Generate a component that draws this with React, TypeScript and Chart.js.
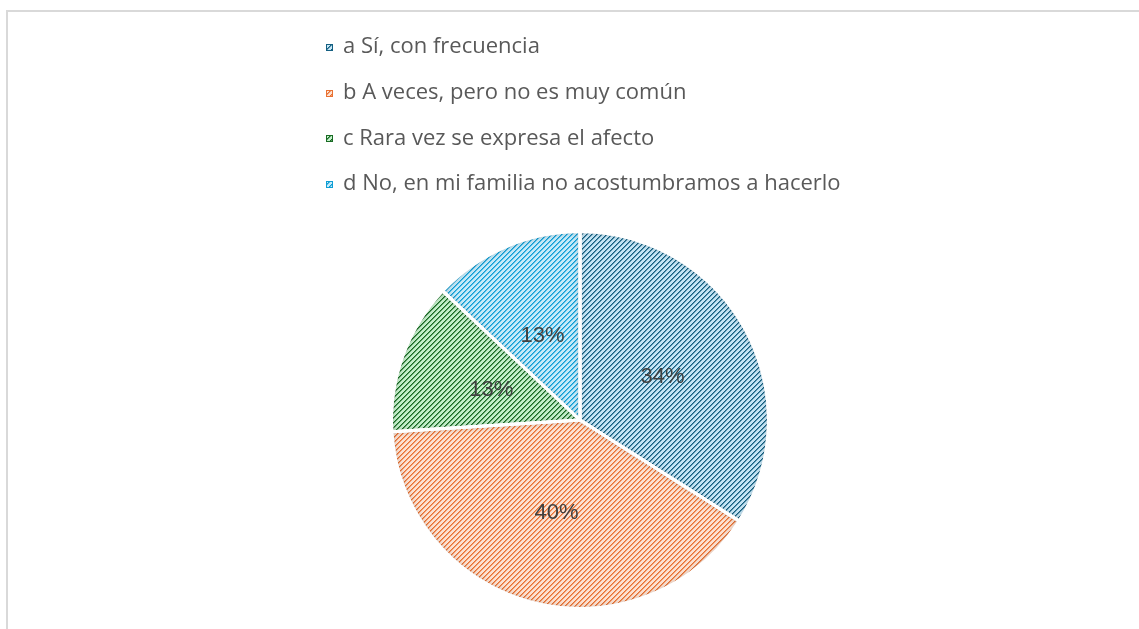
import { useEffect, useRef } from "react";
import { Chart, registerables } from "chart.js";
Chart.register(...registerables);

const categories = [
  "a Sí, con frecuencia",
  "b A veces, pero no es muy común",
  "c Rara vez se expresa el afecto",
  "d No, en mi familia no acostumbramos a hacerlo",
];
const values = [34, 40, 13, 13];
const foreColors = ["#156082", "#E97132", "#196B24", "#0F9ED5"];
const backColors = ["#c6e6f6", "#fde2d2", "#c4f0ca", "#c6eaf9"];

const LEGEND_FONT = "22px 'Open Sans', Arial, sans-serif";
const LABEL_FONT = "22px 'Liberation Sans', Arial, sans-serif";

function makePattern(fg: string, bg: string): CanvasPattern | string {
  const n = 5;
  const c = document.createElement("canvas");
  c.width = n;
  c.height = n;
  const x = c.getContext("2d");
  if (!x) return fg;
  x.fillStyle = bg;
  x.fillRect(0, 0, n, n);
  x.fillStyle = fg;
  for (let i = 0; i < n; i++)
    for (let j = 0; j < n; j++) {
      const k = (i + j) % n;
      if (k === 0) {
        x.globalAlpha = 1;
        x.fillRect(i, j, 1, 1);
      } else if (k === 1) {
        x.globalAlpha = 0.6;
        x.fillRect(i, j, 1, 1);
      }
    }
  x.globalAlpha = 1;
  return x.createPattern(c, "repeat") || fg;
}

function arcPath(ctx: CanvasRenderingContext2D, p: any) {
  ctx.moveTo(p.x, p.y);
  ctx.arc(p.x, p.y, p.outerRadius, p.startAngle, p.endAngle);
  ctx.closePath();
}

const overlay = {
  id: "overlay",
  afterDatasetsDraw(chart: any) {
    const ctx: CanvasRenderingContext2D = chart.ctx;
    const meta = chart.getDatasetMeta(0);
    const ds = chart.data.datasets[0];
    const total = (ds.data as number[]).reduce((a, b) => a + b, 0);
    meta.data.forEach((arc: any) => {
      const p = arc.getProps(["x", "y", "startAngle", "endAngle", "outerRadius"], true);
      ctx.save();
      ctx.beginPath();
      arcPath(ctx, p);
      ctx.clip();
      ctx.beginPath();
      ctx.rect(p.x - 3000, p.y - 3000, 6000, 6000);
      arcPath(ctx, p);
      ctx.shadowColor = "rgba(0,0,0,0.25)";
      ctx.shadowBlur = 7;
      ctx.fillStyle = "#000";
      ctx.fill("evenodd");
      ctx.restore();
    });
    meta.data.forEach((arc: any) => {
      const p = arc.getProps(["x", "y", "startAngle", "endAngle", "outerRadius"], true);
      ctx.save();
      ctx.beginPath();
      arcPath(ctx, p);
      ctx.lineWidth = 3;
      ctx.strokeStyle = "#ffffff";
      ctx.lineJoin = "bevel";
      ctx.stroke();
      ctx.restore();
    });
    meta.data.forEach((arc: any, i: number) => {
      const c = arc.getCenterPoint(true);
      const pct = Math.round(((ds.data[i] as number) / total) * 100) + "%";
      ctx.save();
      ctx.font = LABEL_FONT;
      ctx.fillStyle = "#404040";
      ctx.textAlign = "center";
      ctx.textBaseline = "middle";
      ctx.fillText(pct, c.x, c.y + 2);
      ctx.restore();
    });
  },
  afterDraw(chart: any) {
    const ctx: CanvasRenderingContext2D = chart.ctx;
    const bgs = chart.data.datasets[0].backgroundColor as any[];
    (chart.data.labels as string[]).forEach((label, i) => {
      const y = 47 + i * 45.7;
      ctx.save();
      const sy = Math.round(y - 3);
      ctx.fillStyle = bgs[i];
      ctx.fillRect(326, sy, 7, 7);
      ctx.strokeStyle = foreColors[i];
      ctx.lineWidth = 1;
      ctx.strokeRect(326.5, sy + 0.5, 6, 6);
      ctx.font = LEGEND_FONT;
      ctx.fillStyle = "#595959";
      ctx.textAlign = "left";
      ctx.textBaseline = "middle";
      ctx.fillText(label, 343, y);
      ctx.restore();
    });
  },
};

export default function App() {
  const ref = useRef<HTMLCanvasElement | null>(null);
  useEffect(() => {
    if (!ref.current) return;
    const patterns = foreColors.map((f, i) => makePattern(f, backColors[i]));
    const chart = new Chart(ref.current, {
      type: "pie",
      data: {
        labels: categories,
        datasets: [
          {
            data: values,
            backgroundColor: patterns as any,
            borderColor: "#ffffff",
            borderWidth: 3,
          },
        ],
      },
      options: {
        responsive: false,
        animation: false,
        layout: { padding: { top: 230, bottom: 19, left: 280, right: 259 } },
        plugins: {
          legend: { display: false },
          tooltip: { enabled: false },
        },
      },
      plugins: [overlay],
    });
    return () => chart.destroy();
  }, []);
  return (
    <>
      <div
        style={{
          position: "fixed",
          left: 6,
          top: 10,
          width: 1200,
          height: 700,
          borderTop: "2px solid #d9d9d9",
          borderLeft: "2px solid #d9d9d9",
          background: "#fff",
        }}
      />
      <canvas
        ref={ref}
        width={1139}
        height={629}
        style={{ position: "fixed", left: 0, top: 0, width: 1139, height: 629 }}
      />
    </>
  );
}
